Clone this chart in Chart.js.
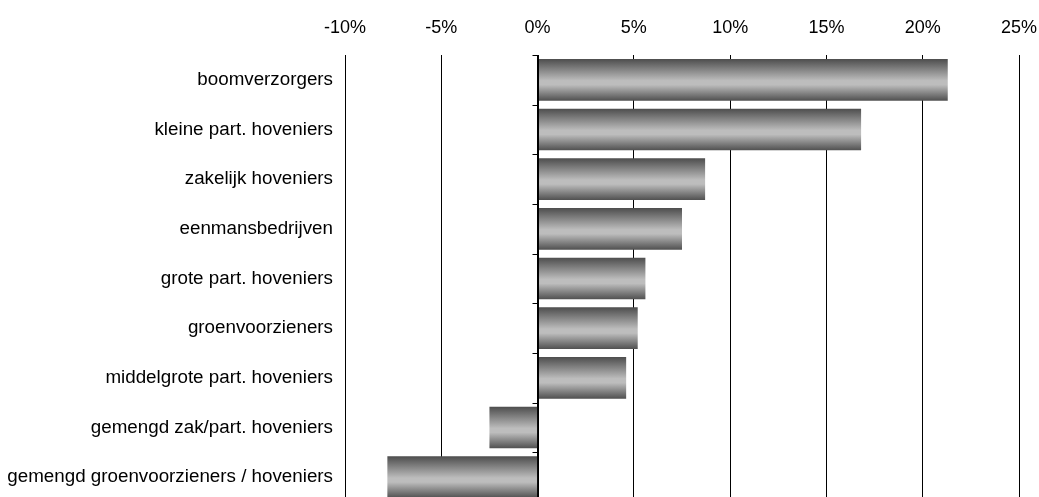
<!DOCTYPE html>
<html>
<head>
<meta charset="utf-8">
<script src="https://cdn.jsdelivr.net/npm/chart.js@4/dist/chart.umd.min.js"></script>
<style>
html,body{margin:0;padding:0;background:#fff;overflow:hidden;}
canvas{display:block;}
</style>
</head>
<body>
<canvas id="c" width="1039" height="502" style="width:1039px;height:502px;"></canvas>
<script>
const categories = [
  "boomverzorgers",
  "kleine part. hoveniers",
  "zakelijk hoveniers",
  "eenmansbedrijven",
  "grote part. hoveniers",
  "groenvoorzieners",
  "middelgrote part. hoveniers",
  "gemengd zak/part. hoveniers",
  "gemengd groenvoorzieners / hoveniers"
];
const values = [21.3, 16.8, 8.7, 7.5, 5.6, 5.2, 4.6, -2.5, -7.8];
const xMin = -10, xMax = 25, xStep = 5;

const BAR_FRAC = 0.84;
const FONT = '"Liberation Sans", Arial, sans-serif';

function barGradient(ctx) {
  const chart = ctx.chart;
  if (!chart.chartArea || !chart.scales.y) return '#888';
  const y = chart.scales.y;
  const yc = y.getPixelForValue(ctx.dataIndex);
  const spacing = Math.abs(y.getPixelForValue(1) - y.getPixelForValue(0));
  const h = spacing * BAR_FRAC;
  const g = chart.ctx.createLinearGradient(0, yc - h / 2, 0, yc + h / 2);
  g.addColorStop(0, '#4d4d4d');
  g.addColorStop(0.52, '#bdbdbd');
  g.addColorStop(0.62, '#bdbdbd');
  g.addColorStop(1, '#505050');
  return g;
}

const zeroTicks = {
  id: 'zeroTicks',
  afterDatasetsDraw(chart) {
    const c = chart.ctx, x = chart.scales.x, y = chart.scales.y;
    const x0 = Math.round(x.getPixelForValue(0)) + 0.5;
    const spacing = y.getPixelForValue(1) - y.getPixelForValue(0);
    c.save();
    c.strokeStyle = '#000';
    c.lineWidth = 1;
    c.beginPath();
    for (let i = 0; i <= categories.length; i++) {
      const py = Math.round(y.getPixelForValue(0) - spacing / 2 + i * spacing) + 0.5;
      c.moveTo(x0 - 6, py);
      c.lineTo(x0, py);
    }
    c.moveTo(x0, chart.chartArea.top);
    c.lineTo(x0, chart.chartArea.bottom);
    c.stroke();
    c.restore();
  }
};

new Chart(document.getElementById('c'), {
  type: 'bar',
  data: {
    labels: categories,
    datasets: [{
      data: values,
      backgroundColor: barGradient,
      borderWidth: 0,
      barPercentage: BAR_FRAC,
      categoryPercentage: 1
    }]
  },
  options: {
    indexAxis: 'y',
    responsive: false,
    maintainAspectRatio: false,
    animation: false,
    layout: { padding: { top: 0, right: 20, bottom: 0, left: 0 } },
    plugins: { legend: { display: false }, tooltip: { enabled: false } },
    scales: {
      x: {
        position: 'top',
        min: xMin, max: xMax,
        ticks: {
          stepSize: xStep,
          callback: v => v + '%',
          color: '#000',
          font: { family: FONT, size: 18 },
          padding: 16,
          maxRotation: 0
        },
        grid: { color: '#000', lineWidth: 1, drawTicks: false },
        border: { display: false },
        afterFit(s) { s.height = 55; s.paddingLeft = 0; s.paddingRight = 0; }
      },
      y: {
        ticks: {
          color: '#000',
          font: { family: FONT, size: 18.8 },
          padding: 12,
          autoSkip: false
        },
        grid: { display: false, drawTicks: false },
        border: { display: false },
        afterFit(s) { s.width = 345; s.paddingTop = 0; s.paddingBottom = 0; }
      }
    }
  },
  plugins: [zeroTicks]
});
</script>
</body>
</html>
